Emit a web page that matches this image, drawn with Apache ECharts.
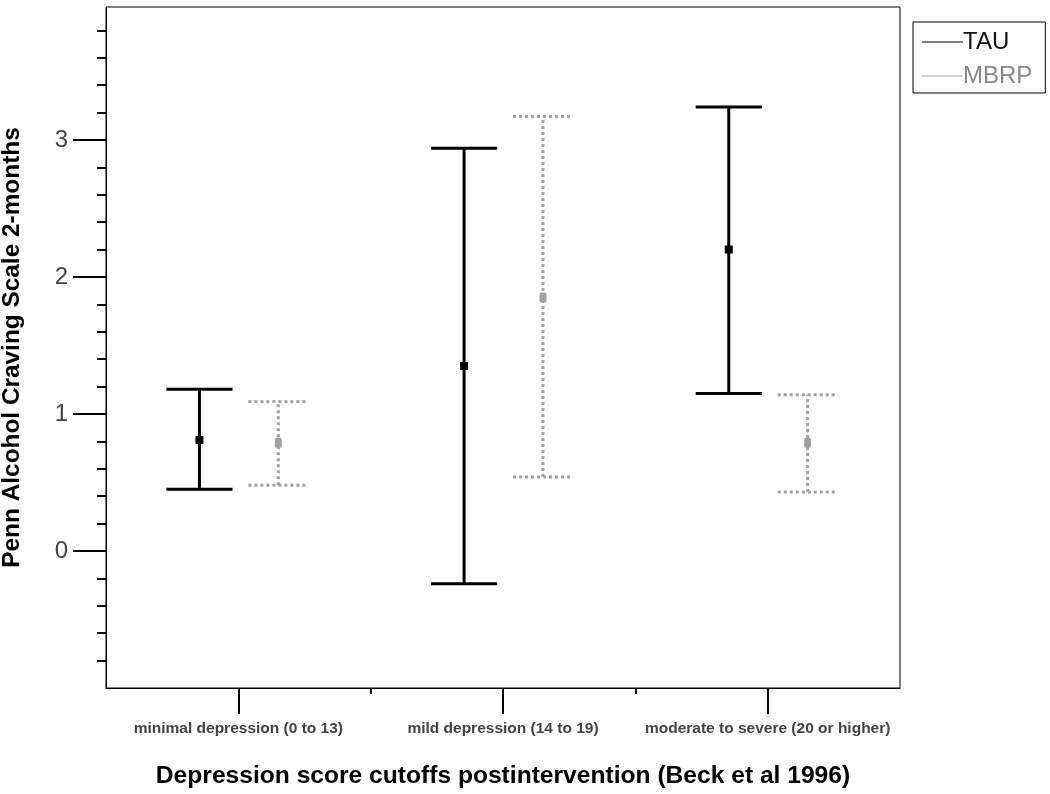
<!DOCTYPE html>
<html>
<head>
<meta charset="utf-8">
<script src="https://cdn.jsdelivr.net/npm/echarts@6/dist/echarts.min.js"></script>
<style>
  html, body { margin: 0; padding: 0; background: #fff; }
  #chart { width: 1050px; height: 794px; }
</style>
</head>
<body>
<div id="chart"></div>
<script>
// 组别（x 轴）
var categories = ['minimal depression (0 to 13)', 'mild depression (14 to 19)', 'moderate to severe (20 or higher)'];
// TAU 组：均值与误差线上下限
var tauMean = [0.81, 1.35, 2.20];
var tauLower = [0.45, -0.24, 1.15];
var tauUpper = [1.18, 2.94, 3.24];
// MBRP 组
var mbrpMean = [0.79, 1.85, 0.79];
var mbrpLower = [0.48, 0.54, 0.43];
var mbrpUpper = [1.09, 3.17, 1.14];
// y 轴刻度
var yTicks = [0, 1, 2, 3];

var font = '"Liberation Sans", Arial, sans-serif';

function rows(lower, upper, mean) {
  return categories.map(function (c, i) {
    return [i, lower[i], upper[i], mean[i]];
  });
}

// 误差线绘制
function errorBar(offset, capHalf, color, dash, markW, markH) {
  return function (params, api) {
    var cat = api.value(0);
    var band = api.size([1, 0])[0];
    var lo = api.coord([cat, api.value(1)]);
    var hi = api.coord([cat, api.value(2)]);
    var mid = api.coord([cat, api.value(3)]);
    var x = lo[0] + band * offset;
    var w = band * capHalf;
    var style = { stroke: color, lineWidth: 3, lineDash: dash };
    return {
      type: 'group',
      children: [
        { type: 'line', shape: { x1: x, y1: lo[1], x2: x, y2: hi[1] }, style: style },
        { type: 'line', shape: { x1: x - w, y1: hi[1], x2: x + w, y2: hi[1] }, style: style },
        { type: 'line', shape: { x1: x - w, y1: lo[1], x2: x + w, y2: lo[1] }, style: style },
        { type: 'rect', shape: { x: x - markW / 2, y: mid[1] - markH / 2, width: markW, height: markH, r: dash ? 2 : 0 },
          style: { fill: color } }
      ]
    };
  };
}

var chart = echarts.init(document.getElementById('chart'));
chart.setOption({
  animation: false,
  grid: {
    left: 106, right: 150, top: 7, bottom: 106,
    outerBoundsMode: 'none',
    containLabel: false,
    show: true, borderColor: '#000', borderWidth: 1
  },
  legend: {
    orient: 'vertical',
    left: 913, top: 22,
    padding: [8, 13, 5, 9],
    itemGap: 10,
    itemWidth: 41,
    itemHeight: 1,
    borderColor: '#000',
    borderWidth: 1,
    selectedMode: false,
    textStyle: { fontFamily: font, fontSize: 24, lineHeight: 24, padding: [0, 0, 0, -5] },
    data: [
      { name: 'TAU', icon: 'rect', itemStyle: { color: '#000' }, textStyle: { color: '#111' } },
      { name: 'MBRP', icon: 'rect', itemStyle: { color: '#a8a8a8' }, textStyle: { color: '#888' } }
    ]
  },
  xAxis: [
    {
      type: 'category',
      data: categories,
      boundaryGap: true,
      name: 'Depression score cutoffs postintervention (Beck et al 1996)',
      nameLocation: 'middle',
      nameGap: 76,
      nameTextStyle: { fontFamily: font, fontSize: 24.6, fontWeight: 'bold', color: '#000' },
      axisLine: { onZero: false, lineStyle: { color: '#000', width: 1 } },
      axisTick: { show: true, interval: 0, alignWithLabel: true, length: 26, lineStyle: { color: '#000', width: 2 } },
      axisLabel: { interval: 0, hideOverlap: false, margin: 33, fontFamily: font, fontSize: 15.5, fontWeight: 'bold', color: '#444' },
      splitLine: { show: false }
    },
    {
      type: 'value',
      min: 0, max: 3,
      position: 'bottom',
      axisLine: { show: false, onZero: false },
      axisLabel: { show: false },
      splitLine: { show: false },
      axisTick: { show: true, customValues: [1, 2], length: 6, lineStyle: { color: '#000', width: 2 } }
    }
  ],
  yAxis: {
    type: 'value',
    min: -1, max: 3.97, interval: 1,
    name: 'Penn Alcohol Craving Scale 2-months',
    nameLocation: 'middle',
    nameGap: 82,
    nameTextStyle: { fontFamily: font, fontSize: 24.4, fontWeight: 'bold', color: '#000' },
    axisLine: { show: true, onZero: false, lineStyle: { color: '#000', width: 1 } },
    axisTick: { show: true, customValues: yTicks, length: 33, lineStyle: { color: '#000', width: 2 } },
    minorTick: { show: true, splitNumber: 5, length: 9, lineStyle: { color: '#000', width: 2 } },
    axisLabel: { customValues: yTicks, margin: 38, fontFamily: font, fontSize: 24, color: '#444' },
    splitLine: { show: false },
    minorSplitLine: { show: false }
  },
  series: [
    {
      name: 'TAU',
      type: 'custom',
      xAxisIndex: 0,
      renderItem: errorBar(-0.147, 0.125, '#000', null, 8, 8),
      data: rows(tauLower, tauUpper, tauMean)
    },
    {
      name: 'MBRP',
      type: 'custom',
      xAxisIndex: 0,
      renderItem: errorBar(0.151, 0.113, '#a0a0a0', [3, 3], 7, 10),
      data: rows(mbrpLower, mbrpUpper, mbrpMean)
    }
  ]
});
</script>
</body>
</html>
